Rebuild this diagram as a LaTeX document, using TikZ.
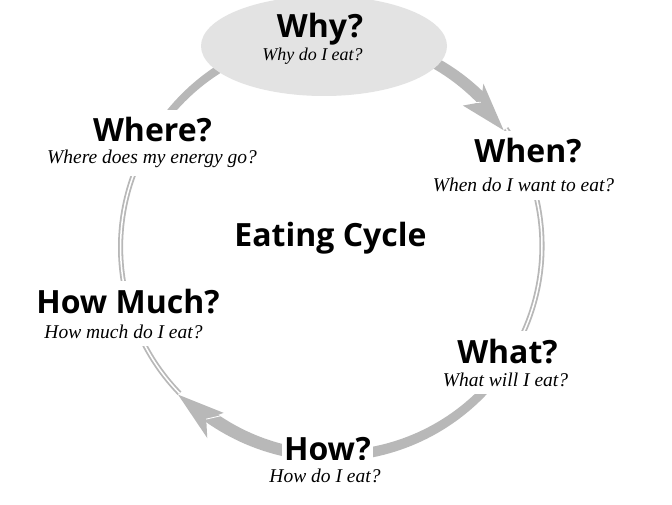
\documentclass[tikz,border=0pt]{standalone}
\usepackage{fontspec}
\usetikzlibrary{shapes.geometric}
\newfontfamily\hdfont{Open Sans}
\newfontfamily\subfont{Liberation Serif}
\definecolor{ringgray}{gray}{0.72}
\definecolor{ellgray}{gray}{0.89}
\newcommand\taperband[4]{%
 \fill[ringgray] plot[domain=#1:#2,samples=60] ({(210+(#3+(#4-#3)*(\x-(#1))/((#2)-(#1)))/2)*cos(\x)},{(210+(#3+(#4-#3)*(\x-(#1))/((#2)-(#1)))/2)*sin(\x)})
 -- plot[domain=#2:#1,samples=60] ({(210-(#3+(#4-#3)*(\x-(#1))/((#2)-(#1)))/2)*cos(\x)},{(210-(#3+(#4-#3)*(\x-(#1))/((#2)-(#1)))/2)*sin(\x)}) -- cycle;}
\newcommand\ringhead[3]{%
 \fill[ringgray] ({#2}:{#3}) -- ({#1}:{#3+15}) -- ({#1-3}:{#3}) -- ({#1}:{#3-15}) -- cycle;
 \draw[white,line width=0.8pt] ({#1-3}:{#3}) -- ({#1+0.3}:{#3-13});}
\tikzset{
 headtxt/.style={font=\hdfont\bfseries\fontsize{32}{32}\selectfont, inner xsep=2pt, inner ysep=2pt, anchor=base},
 subtxt/.style={font=\subfont\itshape\fontsize{19.5}{19.5}\selectfont, inner xsep=2pt, inner ysep=2pt, anchor=base},
 bgwhite/.style={fill=white, inner ysep=8pt},
 thinring/.style={draw=ringgray, line width=1.8pt, double=white, double distance=1.5pt},
}
\begin{document}
\begin{tikzpicture}[x=1pt,y=1pt]
\useasboundingbox (0,0) rectangle (672,504);
\fill[white] (0,0) rectangle (672,504);
\begin{scope}[shift={(332,258)}]
 \coordinate (c) at (0,0);
 \taperband{150}{44}{7}{12}
 \ringhead{47}{34}{207}
 \draw[thinring] (34:210) arc[start angle=34,end angle=-34,radius=210pt];
 \taperband{-34}{-126}{8}{13}
 \ringhead{-123}{-136}{214}
 \draw[thinring] (224:212) arc[start angle=224,end angle=150,radius=210pt];
\end{scope}
\node (whybg) [ellipse, fill=ellgray, minimum width=246pt, minimum height=100pt, inner sep=0pt] at (324,458) {};
\node (why) [headtxt] at (320,466) {Why?};
\node (whysub) [subtxt,font=\subfont\itshape\fontsize{18}{18}\selectfont] at (312.5,443) {Why do I eat?};
\node (when) [headtxt,bgwhite] at (528,341) {When?};
\node (whensub) [subtxt,bgwhite] at (523.5,312) {When do I want to eat?};
\node (where) [headtxt,bgwhite] at (152.5,362) {Where?};
\node (wheresub) [subtxt,bgwhite] at (152,340) {Where does my energy go?};
\node (eating) [headtxt] at (330.5,257) {Eating Cycle};
\node (howmuch) [headtxt,bgwhite] at (128,191) {How Much?};
\node (howmuchsub) [subtxt,bgwhite] at (123.5,166) {How much do I eat?};
\node (what) [headtxt,bgwhite] at (507.5,141) {What?};
\node (whatsub) [subtxt,bgwhite] at (505.5,118) {What will I eat?};
\node (how) [headtxt,bgwhite] at (327.5,44) {How?};
\node (howsub) [subtxt,bgwhite] at (325,22) {How do I eat?};
\end{tikzpicture}
\end{document}
